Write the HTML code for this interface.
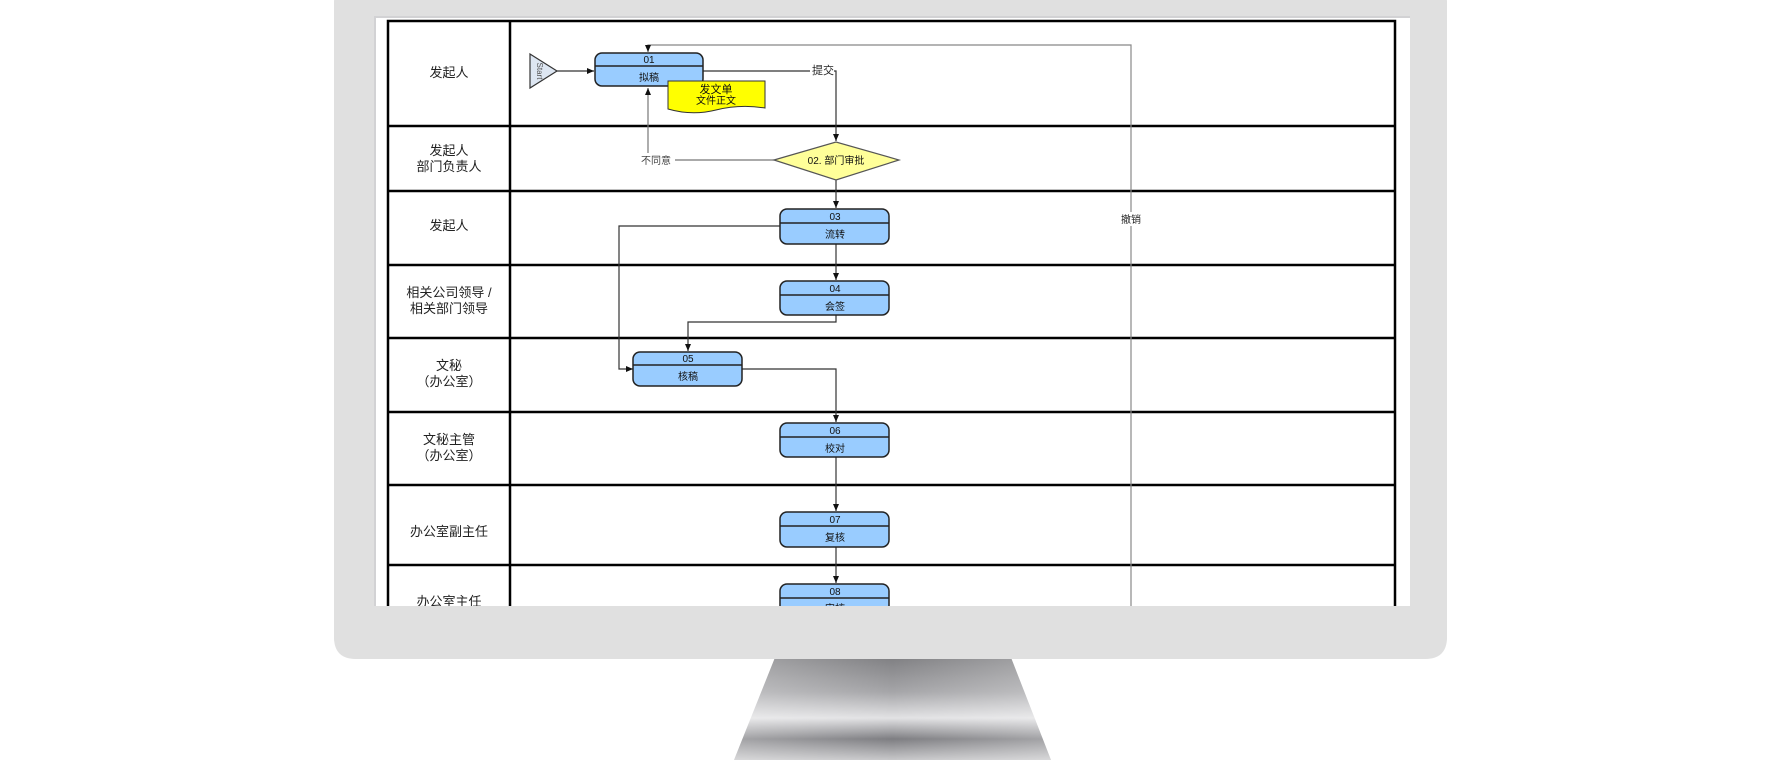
<!DOCTYPE html>
<html><head><meta charset="utf-8"><style>
html,body{margin:0;padding:0;background:#fff;}
body{width:1784px;height:760px;overflow:hidden;position:relative;font-family:"Liberation Sans","Noto Sans CJK SC",sans-serif;}
</style></head><body>
<svg width="1784" height="760" viewBox="0 0 1784 760" xmlns="http://www.w3.org/2000/svg" style="position:absolute;left:0;top:0">
<defs>
<linearGradient id="st" x1="0" y1="0" x2="0" y2="1">
<stop offset="0" stop-color="#7d7d80"/>
<stop offset="0.35" stop-color="#a5a5a8"/>
<stop offset="0.6" stop-color="#e2e2e4"/>
<stop offset="0.8" stop-color="#7e7e82"/>
<stop offset="1" stop-color="#c8c8ca"/>
</linearGradient>
<linearGradient id="sth" x1="0" y1="0" x2="1" y2="0">
<stop offset="0" stop-color="#fff" stop-opacity="0.3"/>
<stop offset="0.5" stop-color="#fff" stop-opacity="0"/>
<stop offset="1" stop-color="#fff" stop-opacity="0.3"/>
</linearGradient>
<marker id="ar" markerWidth="8" markerHeight="8" refX="7" refY="4" orient="auto" markerUnits="userSpaceOnUse"><path d="M0,1 L7,4 L0,7 z" fill="#111"/></marker>
</defs>
<path d="M776,655 L1010,655 L1051,760 L734,760 Z" fill="url(#st)"/>
<path d="M776,655 L1010,655 L1051,760 L734,760 Z" fill="url(#sth)"/>
<rect x="334" y="-20" width="1113" height="679" rx="22" fill="#e0e0e0"/>
<rect x="374" y="16" width="1036" height="590" fill="#d2d2d4"/>
<rect x="376" y="18" width="1034" height="588" fill="#fff"/>
<g font-family="Liberation Sans,'Noto Sans CJK SC',sans-serif">
<g stroke="#000" fill="none">
<rect x="388" y="21" width="1007" height="600" stroke-width="2.5"/>
<line x1="510" y1="21" x2="510" y2="606" stroke-width="2.5"/>
<line x1="388" y1="126" x2="1395" y2="126" stroke-width="2.5"/>
<line x1="388" y1="191" x2="1395" y2="191" stroke-width="2.5"/>
<line x1="388" y1="265" x2="1395" y2="265" stroke-width="2.5"/>
<line x1="388" y1="338" x2="1395" y2="338" stroke-width="2.5"/>
<line x1="388" y1="412" x2="1395" y2="412" stroke-width="2.5"/>
<line x1="388" y1="485" x2="1395" y2="485" stroke-width="2.5"/>
<line x1="388" y1="565" x2="1395" y2="565" stroke-width="2.5"/>
</g>
<g font-size="13" fill="#222" text-anchor="middle">
<text x="449" y="77">发起人</text>
<text x="449" y="155">发起人</text>
<text x="449" y="171">部门负责人</text>
<text x="449" y="230">发起人</text>
<text x="449" y="297">相关公司领导 /</text>
<text x="449" y="313">相关部门领导</text>
<text x="449" y="370">文秘</text>
<text x="449" y="386">（办公室）</text>
<text x="449" y="444">文秘主管</text>
<text x="449" y="460">（办公室）</text>
<text x="449" y="536">办公室副主任</text>
<text x="449" y="606">办公室主任</text>
</g>
<g stroke="#333" fill="none" stroke-width="1.2">
<polyline points="1131,606 1131,45 648,45 648,52" stroke="#888" marker-end="url(#ar)"/>
<line x1="557" y1="71" x2="594" y2="71" marker-end="url(#ar)"/>
<polyline points="703,71 836,71 836,141" marker-end="url(#ar)"/>
<polyline points="774,160 648,160 648,88" stroke="#777" marker-end="url(#ar)"/>
<line x1="836" y1="180" x2="836" y2="208" marker-end="url(#ar)"/>
<line x1="836" y1="244" x2="836" y2="280" marker-end="url(#ar)"/>
<polyline points="780,226 619,226 619,369 633,369" marker-end="url(#ar)"/>
<polyline points="836,315 836,322 688,322 688,351" marker-end="url(#ar)"/>
<polyline points="742,369 836,369 836,422" marker-end="url(#ar)"/>
<line x1="836" y1="457" x2="836" y2="511" marker-end="url(#ar)"/>
<line x1="836" y1="547" x2="836" y2="583" marker-end="url(#ar)"/>
</g>
<rect x="1122" y="212" width="18" height="14" fill="#fff"/>
<text x="1131" y="223" font-size="10" text-anchor="middle" fill="#222">撤销</text>
<rect x="810" y="63" width="24" height="14" fill="#fff"/>
<text x="823" y="74" font-size="11" text-anchor="middle" fill="#222">提交</text>
<rect x="637" y="153" width="38" height="14" fill="#fff"/>
<text x="656" y="164" font-size="10" text-anchor="middle" fill="#444">不同意</text>
<path d="M530,54 L557,71 L530,88 Z" fill="#dde6f2" stroke="#333" stroke-width="1.2"/>
<text x="537" y="71" font-size="8" fill="#555" transform="rotate(90 537 71)" text-anchor="middle">Start</text>
<g font-size="10" text-anchor="middle" fill="#111">
<g>
<rect x="595" y="53" width="108" height="33" rx="7" fill="#99ccff" stroke="#222" stroke-width="1.5"/>
<line x1="595" y1="66" x2="703" y2="66" stroke="#222" stroke-width="1.5"/>
<text x="649" y="63">01</text><text x="649" y="81">拟稿</text>
</g>
<path d="M668,81 L765,81 L765,108 Q740,104 716,110 Q692,116 668,109 Z" fill="#ffff00" stroke="#333" stroke-width="1"/>
<text x="716" y="93" font-size="11">发文单</text><text x="716" y="104">文件正文</text>
<path d="M774,160 L836,142 L899,160 L836,180 Z" fill="#ffff99" stroke="#555" stroke-width="1.2"/>
<text x="836" y="164">02. 部门审批</text>
<g>
<rect x="780" y="209" width="109" height="35" rx="7" fill="#99ccff" stroke="#222" stroke-width="1.5"/>
<line x1="780" y1="223" x2="889" y2="223" stroke="#222" stroke-width="1.5"/>
<text x="835" y="220">03</text><text x="835" y="238">流转</text>
</g>
<g>
<rect x="780" y="281" width="109" height="34" rx="7" fill="#99ccff" stroke="#222" stroke-width="1.5"/>
<line x1="780" y1="295" x2="889" y2="295" stroke="#222" stroke-width="1.5"/>
<text x="835" y="292">04</text><text x="835" y="310">会签</text>
</g>
<g>
<rect x="633" y="352" width="109" height="34" rx="7" fill="#99ccff" stroke="#222" stroke-width="1.5"/>
<line x1="633" y1="365" x2="742" y2="365" stroke="#222" stroke-width="1.5"/>
<text x="688" y="362">05</text><text x="688" y="380">核稿</text>
</g>
<g>
<rect x="780" y="423" width="109" height="34" rx="7" fill="#99ccff" stroke="#222" stroke-width="1.5"/>
<line x1="780" y1="437" x2="889" y2="437" stroke="#222" stroke-width="1.5"/>
<text x="835" y="434">06</text><text x="835" y="452">校对</text>
</g>
<g>
<rect x="780" y="512" width="109" height="35" rx="7" fill="#99ccff" stroke="#222" stroke-width="1.5"/>
<line x1="780" y1="526" x2="889" y2="526" stroke="#222" stroke-width="1.5"/>
<text x="835" y="523">07</text><text x="835" y="541">复核</text>
</g>
<g>
<rect x="780" y="584" width="109" height="40" rx="7" fill="#99ccff" stroke="#222" stroke-width="1.5"/>
<line x1="780" y1="598" x2="889" y2="598" stroke="#222" stroke-width="1.5"/>
<text x="835" y="595">08</text><text x="835" y="612">审核</text>
</g>
</g>
</g>
<path d="M334,606 L1447,606 L1447,637 Q1447,659 1425,659 L356,659 Q334,659 334,637 Z" fill="#e0e0e0"/>
</svg>
</body></html>
